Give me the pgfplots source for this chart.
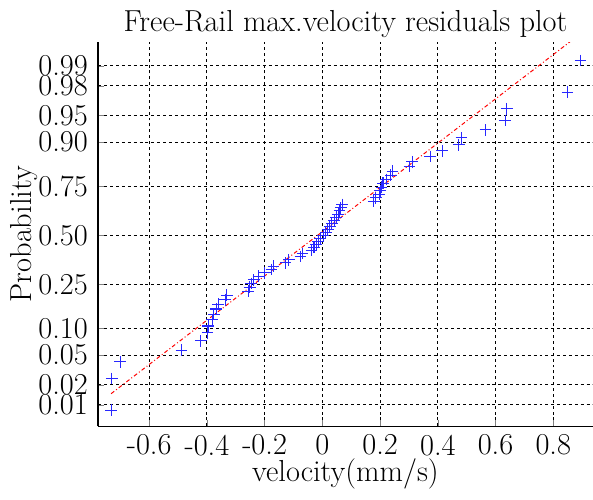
\documentclass[border=0pt]{standalone}
\usepackage{pgfplots}
\pgfplotsset{compat=1.18}
\usepackage{pgfplotstable}

% sorted residuals (x) against normal quantile of (i-0.5)/61 (z)
\pgfplotstableread{
x z
-0.732 -2.400
-0.730 -1.967
-0.700 -1.739
-0.488 -1.577
-0.421 -1.448
-0.398 -1.340
-0.395 -1.245
-0.382 -1.160
-0.376 -1.083
-0.368 -1.012
-0.361 -0.946
-0.337 -0.883
-0.331 -0.824
-0.257 -0.768
-0.252 -0.714
-0.247 -0.662
-0.238 -0.611
-0.221 -0.563
-0.200 -0.515
-0.176 -0.469
-0.169 -0.423
-0.128 -0.379
-0.116 -0.335
-0.076 -0.292
-0.069 -0.249
-0.038 -0.207
-0.029 -0.165
-0.021 -0.124
-0.014 -0.082
-0.007 -0.041
0.003 0.000
0.012 0.041
0.019 0.082
0.026 0.124
0.033 0.165
0.041 0.207
0.048 0.249
0.055 0.292
0.059 0.335
0.064 0.379
0.069 0.423
0.178 0.469
0.185 0.515
0.197 0.563
0.200 0.611
0.205 0.662
0.210 0.714
0.221 0.768
0.237 0.824
0.243 0.883
0.302 0.946
0.311 1.012
0.374 1.083
0.415 1.160
0.473 1.245
0.482 1.340
0.565 1.448
0.633 1.577
0.639 1.739
0.849 1.967
0.894 2.400
}\resid

\begin{document}
\fontsize{15.5}{17}\selectfont
\begin{tikzpicture}
\begin{axis}[
    scale only axis,
    width=252pt, height=196pt,
    xmin=-0.776, xmax=0.936,
    ymin=-2.623, ymax=2.655,
    axis x line*=bottom, axis y line*=left,
    tick align=inside,
    major tick length=3pt,
    xtick={-0.6,-0.4,-0.2,0,0.2,0.4,0.6,0.8},
    xticklabels={-0.6,-0.4,-0.2,0,0.2,0.4,0.6,0.8},
    ytick={-2.3263,-2.0537,-1.6449,-1.2816,-0.6745,0,0.6745,1.2816,1.6449,2.0537,2.3263},
    yticklabels={0.01,0.02,0.05,0.10,0.25,0.50,0.75,0.90,0.95,0.98,0.99},
    grid=major,
    major grid style={black, line width=0.5pt, dash pattern=on 1.5pt off 1.5pt},
    y axis line style={line width=1pt},
    title={Free-Rail max.velocity residuals plot},
    xlabel={velocity(mm/s)},
    ylabel={Probability},
    xlabel style={yshift=9pt},
    ylabel style={yshift=-10pt},
    title style={yshift=-9pt},
    yticklabel style={xshift=0pt},
    xticklabel style={yshift=1pt},
]
\addplot[red, line width=0.5pt, dash pattern=on 2pt off 1.2pt on 0.5pt off 1.2pt]
    coordinates {(-0.732,-2.175) (0.894,2.768)};
\addplot[only marks, mark=+, mark size=3pt, color={rgb,255:red,40;green,40;blue,255}, line width=0.55pt]
    table[x=x, y=z] {\resid};
\end{axis}
\end{tikzpicture}
\end{document}
